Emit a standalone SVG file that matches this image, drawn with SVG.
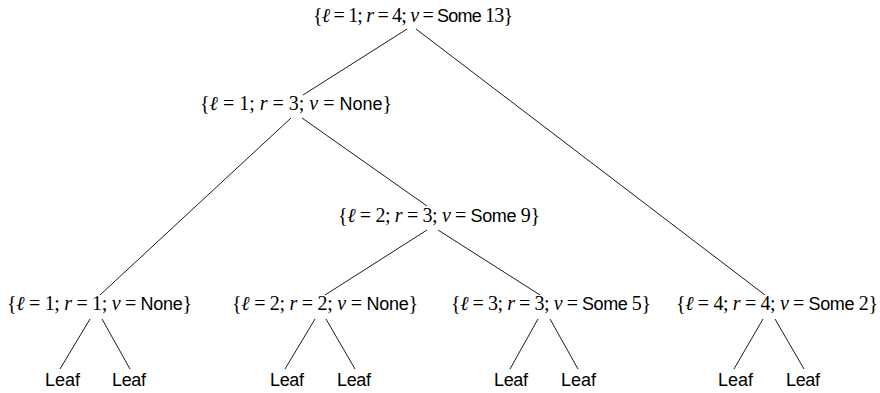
<svg xmlns="http://www.w3.org/2000/svg" width="880" height="393" viewBox="0 0 880 393">
<style>
.t{font-family:"Liberation Serif","DejaVu Serif",serif;font-size:20px;fill:#000}
.i{font-style:italic}
.s{font-family:"Liberation Sans","DejaVu Sans",sans-serif;font-size:18px}
.leaf{font-family:"Liberation Sans","DejaVu Sans",sans-serif;font-size:18px;fill:#000}
.e line{stroke:#000;stroke-width:0.9;fill:none}
</style>
<rect width="880" height="393" fill="#fff"/>
<g class="e" id="connectors">
<line x1="407" y1="29" x2="303" y2="95"/>
<line x1="416" y1="29" x2="765" y2="295"/>
<line x1="291" y1="118" x2="100" y2="295"/>
<line x1="302" y1="118" x2="427" y2="206"/>
<line x1="427" y1="230" x2="325" y2="295"/>
<line x1="438" y1="230" x2="540" y2="295"/>
<line x1="90" y1="319" x2="60" y2="369"/>
<line x1="102" y1="319" x2="130" y2="369"/>
<line x1="315" y1="319" x2="285" y2="369"/>
<line x1="326" y1="319" x2="355" y2="369"/>
<line x1="538" y1="319" x2="510" y2="369"/>
<line x1="550" y1="319" x2="578" y2="369"/>
<line x1="763" y1="319" x2="734" y2="369"/>
<line x1="775" y1="319" x2="804" y2="369"/>
</g>
<g id="n1"><text class="t" x="313" y="22" textLength="200" lengthAdjust="spacing">{<tspan class="i">ℓ</tspan> = 1; <tspan class="i">r</tspan> = 4; <tspan class="i">v</tspan> = <tspan class="s">Some</tspan> 13}</text></g>
<g id="n2"><text class="t" x="200" y="110" textLength="192" lengthAdjust="spacing">{<tspan class="i">ℓ</tspan> = 1; <tspan class="i">r</tspan> = 3; <tspan class="i">v</tspan> = <tspan class="s">None</tspan>}</text></g>
<g id="n3"><text class="t" x="338" y="222" textLength="202" lengthAdjust="spacing">{<tspan class="i">ℓ</tspan> = 2; <tspan class="i">r</tspan> = 3; <tspan class="i">v</tspan> = <tspan class="s">Some</tspan> 9}</text></g>
<g id="n4"><text class="t" x="7" y="310" textLength="185" lengthAdjust="spacing">{<tspan class="i">ℓ</tspan> = 1; <tspan class="i">r</tspan> = 1; <tspan class="i">v</tspan> = <tspan class="s">None</tspan>}</text></g>
<g id="n5"><text class="t" x="232" y="310" textLength="186" lengthAdjust="spacing">{<tspan class="i">ℓ</tspan> = 2; <tspan class="i">r</tspan> = 2; <tspan class="i">v</tspan> = <tspan class="s">None</tspan>}</text></g>
<g id="n6"><text class="t" x="451" y="310" textLength="200" lengthAdjust="spacing">{<tspan class="i">ℓ</tspan> = 3; <tspan class="i">r</tspan> = 3; <tspan class="i">v</tspan> = <tspan class="s">Some</tspan> 5}</text></g>
<g id="n7"><text class="t" x="676" y="310" textLength="202" lengthAdjust="spacing">{<tspan class="i">ℓ</tspan> = 4; <tspan class="i">r</tspan> = 4; <tspan class="i">v</tspan> = <tspan class="s">Some</tspan> 2}</text></g>
<g id="l1"><text class="leaf" x="45" y="386" textLength="35">Leaf</text></g>
<g id="l2"><text class="leaf" x="112" y="386" textLength="34">Leaf</text></g>
<g id="l3"><text class="leaf" x="270" y="386" textLength="34">Leaf</text></g>
<g id="l4"><text class="leaf" x="337" y="386" textLength="34">Leaf</text></g>
<g id="l5"><text class="leaf" x="494" y="386" textLength="34">Leaf</text></g>
<g id="l6"><text class="leaf" x="561" y="386" textLength="35">Leaf</text></g>
<g id="l7"><text class="leaf" x="718" y="386" textLength="35">Leaf</text></g>
<g id="l8"><text class="leaf" x="786" y="386" textLength="34">Leaf</text></g>
</svg>
